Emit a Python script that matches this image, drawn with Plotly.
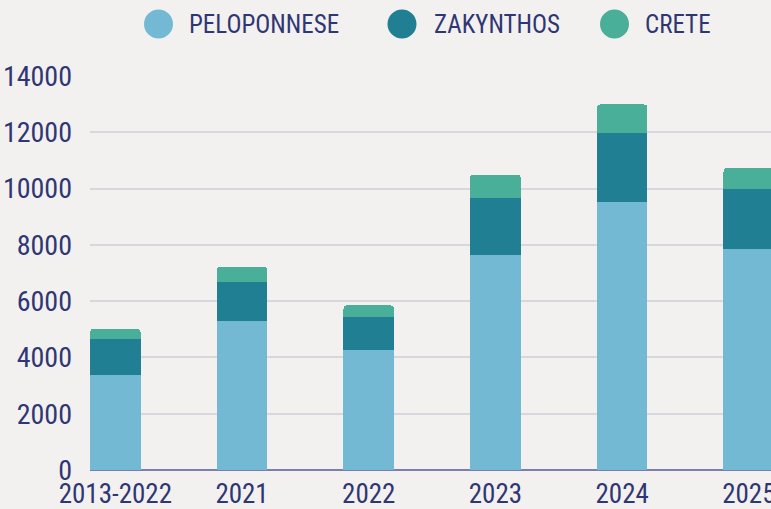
import plotly.graph_objects as go

# data
categories = ["2013-2022", "2021", "2022", "2023", "2024", "2025"]
peloponnese = [3390, 5280, 4260, 7630, 9510, 7870]
zakynthos = [1250, 1390, 1190, 2030, 2460, 2130]
crete = [380, 550, 400, 840, 1020, 740]
y_ticks = [0, 2000, 4000, 6000, 8000, 10000, 12000, 14000]

series_names = ["PELOPONNESE", "ZAKYNTHOS", "CRETE"]
colors = ["#74B9D4", "#207F93", "#49AF98"]

BG = "#F3F1EF"
TEXT = "#2F3674"
FONT = "Roboto Condensed, Liberation Sans Narrow, sans-serif"

W, H = 771, 509
ML, MR, MT, MB = 90, 0, 76, 39

fig = go.Figure()
for name, vals, col in zip(series_names, [peloponnese, zakynthos, crete], colors):
    fig.add_trace(go.Bar(x=categories, y=vals, name=name, marker=dict(color=col, line=dict(width=0)),
                         showlegend=False))

# hand-drawn legend with big circles (plotly caps legend marker size)
plot_w = W - ML - MR
plot_h = H - MT - MB
legend_y = 25
circle_x = [158.5, 402, 614.5]
label_x = [187, 432, 643]


def px_to_paper_x(px):
    return (px - ML) / plot_w


def px_to_paper_y(py):
    return (H - MB - py) / plot_h


shapes = []
annotations = []
for name, col, cx, lx in zip(series_names, colors, circle_x, label_x):
    shapes.append(dict(type="circle", xref="paper", yref="paper", xsizemode="pixel", ysizemode="pixel",
                       xanchor=px_to_paper_x(cx), yanchor=px_to_paper_y(24),
                       x0=-14.5, x1=14.5, y0=-14.5, y1=14.5, fillcolor=col, line=dict(width=0)))
    annotations.append(dict(text=name, xref="paper", yref="paper", x=px_to_paper_x(lx), y=px_to_paper_y(legend_y),
                            xanchor="left", yanchor="middle", showarrow=False,
                            font=dict(family=FONT, size=25, color=TEXT)))

fig.update_layout(
    barmode="stack",
    bargap=0.6,
    barcornerradius=4,
    width=W, height=H,
    margin=dict(l=ML, r=MR, t=MT, b=MB),
    paper_bgcolor=BG,
    plot_bgcolor=BG,
    font=dict(family=FONT, size=28, color=TEXT),
    showlegend=False,
    shapes=shapes,
    annotations=annotations,
    xaxis=dict(range=[-0.2, 5.175], showgrid=False, showline=False, ticks="", automargin=False,
               ticklabelstandoff=5, tickfont=dict(size=27, color=TEXT)),
    yaxis=dict(range=[0, 14000], tickvals=y_ticks, ticktext=[str(v) for v in y_ticks],
               showgrid=True, gridcolor="#D8D6DF", gridwidth=1.5, automargin=False,
               zeroline=True, zerolinecolor="#7E7EAE", zerolinewidth=1.5, ticks="",
               ticklabelstandoff=17, tickfont=dict(size=28, color=TEXT)),
)

fig.write_html("out.html", config={"displayModeBar": False},
               post_script="document.body.style.margin='0'")
